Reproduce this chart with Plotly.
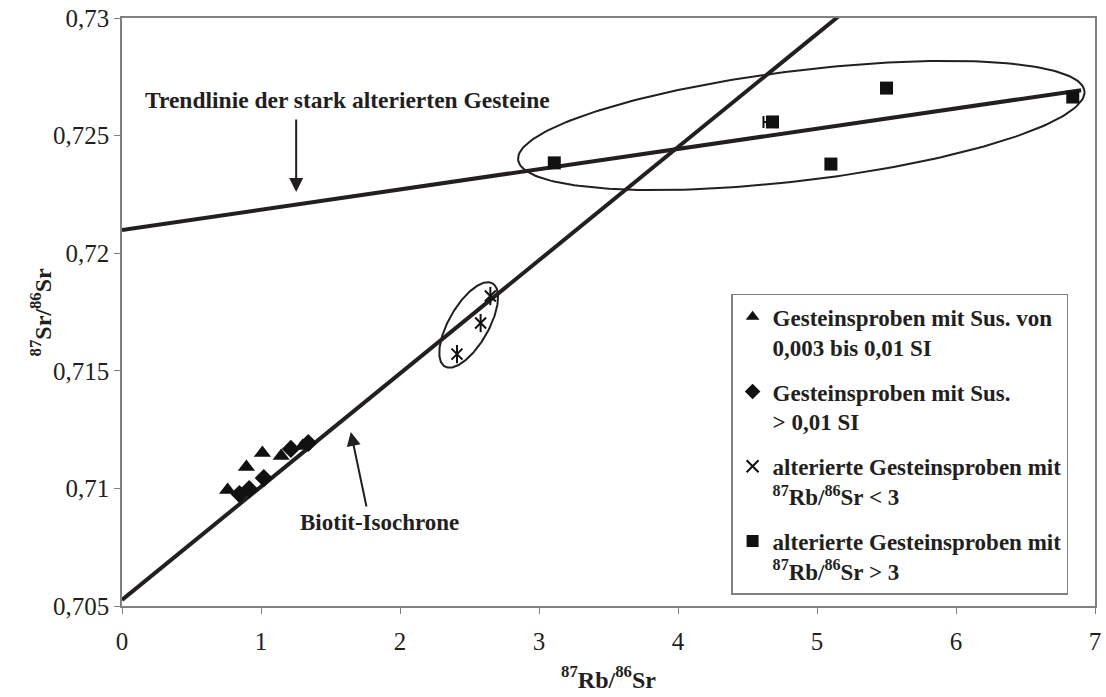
import numpy as np
import plotly.graph_objects as go

# --- measured isotope ratios -------------------------------------------------
# Gesteinsproben mit Sus. von 0,003 bis 0,01 SI
tri_rb = [0.76, 0.895, 1.01, 1.145, 1.30]
tri_sr = [0.70993, 0.71091, 0.71150, 0.71138, 0.71180]

# Gesteinsproben mit Sus. > 0,01 SI
dia_rb = [0.845, 0.915, 1.02, 1.215, 1.34]
dia_sr = [0.70976, 0.70997, 0.71044, 0.71168, 0.71193]

# alterierte Gesteinsproben mit 87Rb/86Sr < 3
ast_rb = [2.41, 2.58, 2.65]
ast_sr = [0.71571, 0.71703, 0.71818]

# alterierte Gesteinsproben mit 87Rb/86Sr > 3
sq_rb = [3.11, 4.68, 5.10, 5.50, 6.84]
sq_sr = [0.72384, 0.72558, 0.72379, 0.72702, 0.72664]
sq_err_minus = [0.0, 0.065, 0.0, 0.0, 0.0]

# regression lines (intercept, slope)
iso_intercept, iso_slope = 0.70526, 0.004813
trend_intercept, trend_slope = 0.72099, 0.000861

x_ticks = [0, 1, 2, 3, 4, 5, 6, 7]
y_ticks = [0.705, 0.71, 0.715, 0.72, 0.725, 0.73]
y_tick_text = ["0,705", "0,71", "0,715", "0,72", "0,725", "0,73"]

# --- page geometry -------------------------------------------------------------
W, H = 1106, 697
M_L, M_R, M_T, M_B = 122, 5, 18, 91
X_RANGE = [0, 7]
Y_RANGE = [0.705, 0.73]
PW, PH = W - M_L - M_R, H - M_T - M_B
kx = PW / (X_RANGE[1] - X_RANGE[0])   # px per x unit
ky = PH / (Y_RANGE[1] - Y_RANGE[0])   # px per y unit

INK = "#231f20"
FONT = "Liberation Serif"


def ellipse(cx, cy, a_px, b_px, angle_deg, n=240):
    """Rotated ellipse given in screen pixels, returned in data units."""
    t = np.linspace(0, 2 * np.pi, n)
    th = np.radians(angle_deg)
    u = a_px * np.cos(t)
    v = b_px * np.sin(t)
    dx = u * np.cos(th) - v * np.sin(th)
    dy = u * np.sin(th) + v * np.cos(th)
    return cx + dx / kx, cy + dy / ky


fig = go.Figure()

# group outlines
ex, ey = ellipse(4.887, 0.72543, 287, 55, 6.9)
fig.add_trace(go.Scatter(x=ex, y=ey, mode="lines", line=dict(color=INK, width=2),
                         showlegend=False, hoverinfo="skip"))
ex, ey = ellipse(2.494, 0.71695, 48, 20, 60)
fig.add_trace(go.Scatter(x=ex, y=ey, mode="lines", line=dict(color=INK, width=2),
                         showlegend=False, hoverinfo="skip"))

# regression lines
xi = np.array([0, 5.3])
fig.add_trace(go.Scatter(x=xi, y=iso_intercept + iso_slope * xi, mode="lines",
                         line=dict(color=INK, width=4), showlegend=False, hoverinfo="skip"))
xt = np.array([0, 6.9])
fig.add_trace(go.Scatter(x=xt, y=trend_intercept + trend_slope * xt, mode="lines",
                         line=dict(color=INK, width=4), showlegend=False, hoverinfo="skip"))

# sample groups
fig.add_trace(go.Scatter(
    x=tri_rb, y=tri_sr, mode="markers", legendgroup="a",
    name="<b>Gesteinsproben mit Sus. von<br>0,003 bis 0,01 SI</b>",
    marker=dict(symbol="triangle-up", size=15, color="#111")))
fig.add_trace(go.Scatter(
    x=dia_rb, y=dia_sr, mode="markers", legendgroup="b",
    name="<b>Gesteinsproben mit Sus.<br>> 0,01 SI</b>",
    marker=dict(symbol="diamond", size=14, color="#111")))
fig.add_trace(go.Scatter(
    x=ast_rb, y=ast_sr, mode="markers", legendgroup="c",
    name="<b>alterierte Gesteinsproben mit<br><sup>87</sup>Rb/<sup>86</sup>Sr < 3</b>",
    marker=dict(symbol="x-thin-open", size=11, color="#111", line=dict(width=2, color="#111"))))
fig.add_trace(go.Scatter(
    x=ast_rb, y=ast_sr, mode="markers", legendgroup="c", showlegend=False,
    marker=dict(symbol="line-ns-open", size=13, color="#111", line=dict(width=2, color="#111")),
    hoverinfo="skip"))
fig.add_trace(go.Scatter(
    x=sq_rb, y=sq_sr, mode="markers", legendgroup="d",
    name="<b>alterierte Gesteinsproben mit<br><sup>87</sup>Rb/<sup>86</sup>Sr > 3</b>",
    error_x=dict(type="data", symmetric=False, array=[0] * len(sq_rb),
                 arrayminus=sq_err_minus, color="#111", thickness=2, width=6),
    marker=dict(symbol="square", size=13, color="#111")))

# annotations with arrows
fig.add_annotation(x=1.253, y=0.72260, ax=1.253, ay=0.72575, xref="x", yref="y",
                   axref="x", ayref="y", text="", showarrow=True, arrowhead=2,
                   arrowsize=1.4, arrowwidth=2, arrowcolor=INK)
fig.add_annotation(x=1.62, y=0.72651, xref="x", yref="y", showarrow=False,
                   text="<b>Trendlinie der stark alterierten Gesteine</b>",
                   font=dict(family=FONT, size=23.5, color=INK))
fig.add_annotation(x=1.646, y=0.7124, ax=1.761, ay=0.70917, xref="x", yref="y",
                   axref="x", ayref="y", text="", showarrow=True, arrowhead=2,
                   arrowsize=1.4, arrowwidth=2, arrowcolor=INK)
fig.add_annotation(x=1.85, y=0.70857, xref="x", yref="y", showarrow=False,
                   text="<b>Biotit-Isochrone</b>",
                   font=dict(family=FONT, size=23, color=INK))

# y axis title, placed beside the tick labels
fig.add_annotation(x=(40 - M_L) / PW, y=0.5, xref="paper", yref="paper",
                   xanchor="center", yanchor="middle",
                   showarrow=False, textangle=-90,
                   text="<b><sup>87</sup>Sr/<sup>86</sup>Sr</b>",
                   font=dict(family=FONT, size=24, color=INK))

axis_common = dict(showgrid=False, zeroline=False, showline=True, linecolor="#808080",
                   linewidth=1.5, mirror=True, ticks="outside", tickcolor="#808080",
                   tickwidth=1, ticklen=6,
                   tickfont=dict(family=FONT, size=25, color=INK))

fig.update_xaxes(range=X_RANGE, tickvals=x_ticks, ticktext=[str(v) for v in x_ticks],
                 title=dict(text="<b><sup>87</sup>Rb/<sup>86</sup>Sr</b>",
                            font=dict(family=FONT, size=24, color=INK), standoff=17),
                 ticklabelstandoff=6, **axis_common)
fig.update_yaxes(range=Y_RANGE, tickvals=y_ticks, ticktext=y_tick_text,
                 ticklabelstandoff=0, **axis_common)

fig.update_layout(
    width=W, height=H,
    margin=dict(l=M_L, r=M_R, t=M_T, b=M_B),
    paper_bgcolor="white", plot_bgcolor="white",
    separators=", ",
    showlegend=True,
    legend=dict(x=0.626, y=0.531, xanchor="left", yanchor="top",
                bordercolor="#808080", borderwidth=1.5, bgcolor="white",
                valign="top", tracegroupgap=12, traceorder="grouped",
                font=dict(family=FONT, size=23, color=INK),
                itemsizing="constant"),
)

fig.write_html("out.html")
